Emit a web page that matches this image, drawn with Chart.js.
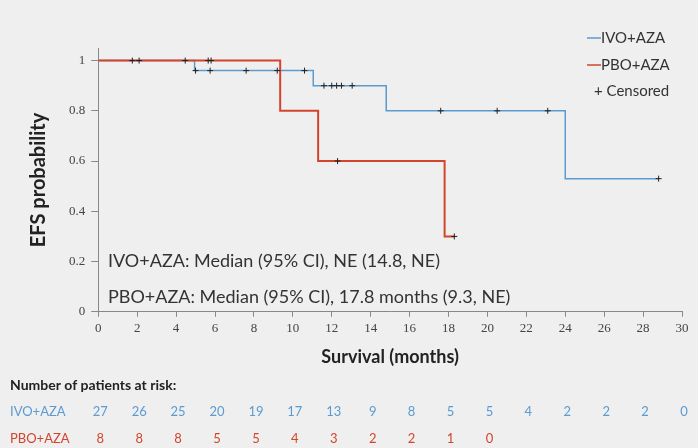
<!DOCTYPE html>
<html>
<head>
<meta charset="utf-8">
<script src="https://cdn.jsdelivr.net/npm/chart.js@4"></script>
<style>
  html, body { margin: 0; padding: 0; background: #efefef; }
  #wrap { width: 698px; height: 448px; }
</style>
</head>
<body>
<div id="wrap"><canvas id="kmChart" width="698" height="448"></canvas></div>
<script>
// curvas Kaplan-Meier (tiempo en meses, probabilidad tras el evento)
const ivoSteps = [
    { x: 0, y: 1 }, { x: 4.95, y: 0.96 }, { x: 11.05, y: 0.90 },
    { x: 14.8, y: 0.80 }, { x: 24.0, y: 0.53 }, { x: 28.8, y: 0.53 }
];
const pboSteps = [
    { x: 0, y: 1 }, { x: 9.35, y: 0.80 }, { x: 11.3, y: 0.60 },
    { x: 17.8, y: 0.30 }, { x: 18.3, y: 0.30 }
];
// censurados
const ivoCensored = [
    { x: 1.75, y: 1 }, { x: 2.1, y: 1 },
    { x: 5.0, y: 0.96 }, { x: 5.75, y: 0.96 }, { x: 7.6, y: 0.96 }, { x: 9.2, y: 0.96 }, { x: 10.6, y: 0.96 },
    { x: 11.6, y: 0.90 }, { x: 12.0, y: 0.90 }, { x: 12.25, y: 0.90 }, { x: 12.5, y: 0.90 }, { x: 13.05, y: 0.90 },
    { x: 17.6, y: 0.80 }, { x: 20.5, y: 0.80 }, { x: 23.1, y: 0.80 },
    { x: 28.8, y: 0.53 }
];
const pboCensored = [
    { x: 4.47, y: 1 }, { x: 5.65, y: 1 }, { x: 5.8, y: 1 },
    { x: 12.3, y: 0.60 }, { x: 18.3, y: 0.30 }
];

// pacientes en riesgo cada 2 meses
const riskTimes = [0, 2, 4, 6, 8, 10, 12, 14, 16, 18, 20, 22, 24, 26, 28, 30];
const ivoAtRisk = [27, 26, 25, 20, 19, 17, 13, 9, 8, 5, 5, 4, 2, 2, 2, 0];
const pboAtRisk = [8, 8, 8, 5, 5, 4, 3, 2, 2, 1, 0];

const yTickValues = [0, 0.2, 0.4, 0.6, 0.8, 1];

const seriesNames = ["IVO+AZA", "PBO+AZA"];
const medianNotes = [
    "IVO+AZA: Median (95% CI), NE (14.8, NE)",
    "PBO+AZA: Median (95% CI), 17.8 months (9.3, NE)"
];

const blue = "#5b9bd0";
const red = "#d2452c";
const textFont = "Lato, 'Open Sans', sans-serif";

// Dibuja leyenda, notas de mediana y tabla de riesgo
const extrasPlugin = {
    id: "extras",
    afterDraw(chart) {
        const ctx = chart.ctx;
        const xs = chart.scales.x;
        const ys = chart.scales.y;
        ctx.save();

        // leyenda
        ctx.font = "15px " + textFont;
        ctx.textBaseline = "middle";
        ctx.textAlign = "left";
        const legX = 587;
        [[blue, seriesNames[0], 38], [red, seriesNames[1], 65]].forEach(([c, name, y]) => {
            ctx.strokeStyle = c;
            ctx.lineWidth = 1.5;
            ctx.beginPath();
            ctx.moveTo(legX, y);
            ctx.lineTo(legX + 14, y);
            ctx.stroke();
            ctx.fillStyle = "#333";
            ctx.fillText(name, legX + 14, y);
        });
        ctx.fillStyle = "#333";
        ctx.fillText("+ Censored", legX + 7, 91);

        // notas
        ctx.font = "18px " + textFont;
        ctx.fillStyle = "#333";
        ctx.fillText(medianNotes[0], xs.getPixelForValue(0.5), ys.getPixelForValue(0.2));
        ctx.fillText(medianNotes[1], xs.getPixelForValue(0.5), ys.getPixelForValue(0.06));

        // tabla de riesgo
        ctx.font = "bold 14px " + textFont;
        ctx.fillStyle = "#222";
        ctx.fillText("Number of patients at risk:", 10, 385);
        ctx.font = "13px " + textFont;
        [[blue, seriesNames[0], ivoAtRisk, 412], [red, seriesNames[1], pboAtRisk, 439]].forEach(([c, name, vals, y]) => {
            ctx.fillStyle = c;
            ctx.textAlign = "left";
            ctx.fillText(name, 10, y);
            ctx.textAlign = "center";
            vals.forEach((v, i) => {
                ctx.fillText(String(v), xs.getPixelForValue(riskTimes[i]) + 2, y);
            });
        });
        ctx.restore();
    }
};

const ctx = document.getElementById("kmChart").getContext("2d");
new Chart(ctx, {
    type: "line",
    data: {
        datasets: [
            {
                label: "cens-ivo",
                data: ivoCensored,
                showLine: false,
                pointStyle: "cross",
                pointRadius: 3,
                pointBorderWidth: 1,
                pointBorderColor: "#222"
            },
            {
                label: "cens-pbo",
                data: pboCensored,
                showLine: false,
                pointStyle: "cross",
                pointRadius: 3,
                pointBorderWidth: 1,
                pointBorderColor: "#222"
            },
            {
                label: seriesNames[1],
                data: pboSteps,
                stepped: "before",
                borderColor: red,
                borderWidth: 2,
                pointRadius: 0,
                fill: false
            },
            {
                label: seriesNames[0],
                data: ivoSteps,
                stepped: "before",
                borderColor: blue,
                borderWidth: 1.5,
                pointRadius: 0,
                fill: false
            }
        ]
    },
    options: {
        responsive: false,
        animation: false,
        layout: { padding: { left: 27, right: 16, top: 48, bottom: 80 } },
        plugins: {
            legend: { display: false },
            tooltip: { enabled: false }
        },
        scales: {
            x: {
                type: "linear",
                min: 0,
                max: 30,
                ticks: {
                    stepSize: 2,
                    color: "#444",
                    font: { family: "'Liberation Serif', serif", size: 13 },
                    padding: 4
                },
                grid: { drawOnChartArea: false, tickLength: 5, color: "#888" },
                border: { color: "#888", width: 1 },
                title: {
                    display: true,
                    text: "Survival (months)",
                    color: "#222",
                    font: { family: textFont, size: 18, weight: "bold" },
                    padding: { top: 6, bottom: 0 }
                }
            },
            y: {
                min: 0,
                max: 1.05,
                afterBuildTicks: (scale) => {
                    scale.ticks = yTickValues.map(v => ({ value: v }));
                },
                ticks: {
                    color: "#444",
                    font: { family: "'Liberation Serif', serif", size: 13 },
                    padding: 6,
                    callback: (v) => String(v)
                },
                grid: { drawOnChartArea: false, tickLength: 7, color: "#888" },
                border: { color: "#888", width: 1 },
                title: {
                    display: true,
                    text: "EFS probability",
                    color: "#222",
                    font: { family: textFont, size: 20, weight: "bold" },
                    padding: { top: 0, bottom: 12 }
                }
            }
        }
    },
    plugins: [extrasPlugin]
});
</script>
</body>
</html>
